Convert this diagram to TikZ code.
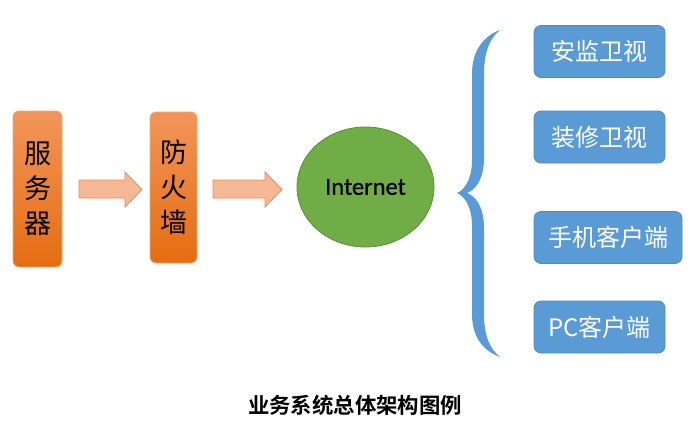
\documentclass[tikz,border=0pt]{standalone}
\usepackage{fontspec}
\setmainfont{Carlito}
\newfontfamily\netfont{Carlito}[FakeBold=0.8]
\newfontfamily\cjk{Noto Sans CJK SC}
\newfontfamily\cjkbold{Noto Sans CJK SC Bold}
\usetikzlibrary{shapes.geometric}
\definecolor{orTop}{HTML}{F2955A}
\definecolor{orBot}{HTML}{E56D10}
\definecolor{orLine}{HTML}{F4A872}
\definecolor{arFill}{HTML}{F6B795}
\definecolor{arLine}{HTML}{EF8A56}
\definecolor{gFill}{HTML}{70AD47}
\definecolor{gLine}{HTML}{5A8D38}
\definecolor{bFill}{HTML}{5B9BD5}
\definecolor{bLine}{HTML}{4E89C1}
\tikzset{
  obox/.style={rounded corners=6pt, top color=orTop, bottom color=orBot, draw=orLine, line width=0.8pt,
    inner sep=0pt, align=center, font=\cjk\fontsize{27}{35}\selectfont, text=black},
  barrow/.style={fill=arFill, draw=arLine, line width=0.8pt, line join=miter},
  bbox/.style={rounded corners=7pt, fill=bFill, draw=bLine, line width=0.8pt, minimum height=52pt,
    minimum width=131pt, inner sep=0pt, text=white, font=\cjk\fontsize{24}{28}\selectfont},
}
\begin{document}
\begin{tikzpicture}[x=1pt,y=-1pt]
\useasboundingbox[fill=white] (0,0) rectangle (700,442);
\node[obox, minimum width=49pt, minimum height=156pt] (srv) at (37.5,189) {服\\务\\器};
\node[obox, minimum width=47pt, minimum height=151pt] (fw) at (173.5,187.5) {防\\火\\墙};
% block arrows
\draw[barrow] (79,180) -- (125,180) -- (125,172) -- (142,189.5) -- (125,207) -- (125,198) -- (79,198) -- cycle;
\draw[barrow] (213,180) -- (265,180) -- (265,172) -- (282,189.5) -- (265,207) -- (265,198) -- (213,198) -- cycle;
\node[ellipse, minimum width=137pt, minimum height=120pt, inner sep=0pt, fill=gFill, draw=gLine, line width=0.8pt,
  text=black, font=\netfont\fontsize{24.5}{26}\selectfont] (net) at (365.5,187) {Internet};
% brace
\fill[bFill] (500,30) .. controls (484,36) and (472,50) .. (472,74)
  -- (472,160) .. controls (472,180) and (464,190) .. (457,193)
  .. controls (464,196) and (472,206) .. (472,226)
  -- (472,314) .. controls (472,338) and (484,351) .. (500,357)
  .. controls (490,349) and (484,336) .. (484,314)
  -- (484,228) .. controls (484,206) and (475,196) .. (467,193)
  .. controls (475,190) and (484,180) .. (484,158)
  -- (484,74) .. controls (484,52) and (490,38) .. (500,30) -- cycle;
\node[bbox] (b1) at (599.5,51.5) {安监卫视};
\node[bbox] (b2) at (599.5,137) {装修卫视};
\node[bbox, minimum width=148pt] (b3) at (608,237.5) {手机客户端};
\node[bbox] (b4) at (599.5,327) {PC客户端};
\node[font=\cjkbold\fontsize{21.4}{23}\selectfont, text=black] (cap) at (355,405) {业务系统总体架构图例};
\end{tikzpicture}
\end{document}
